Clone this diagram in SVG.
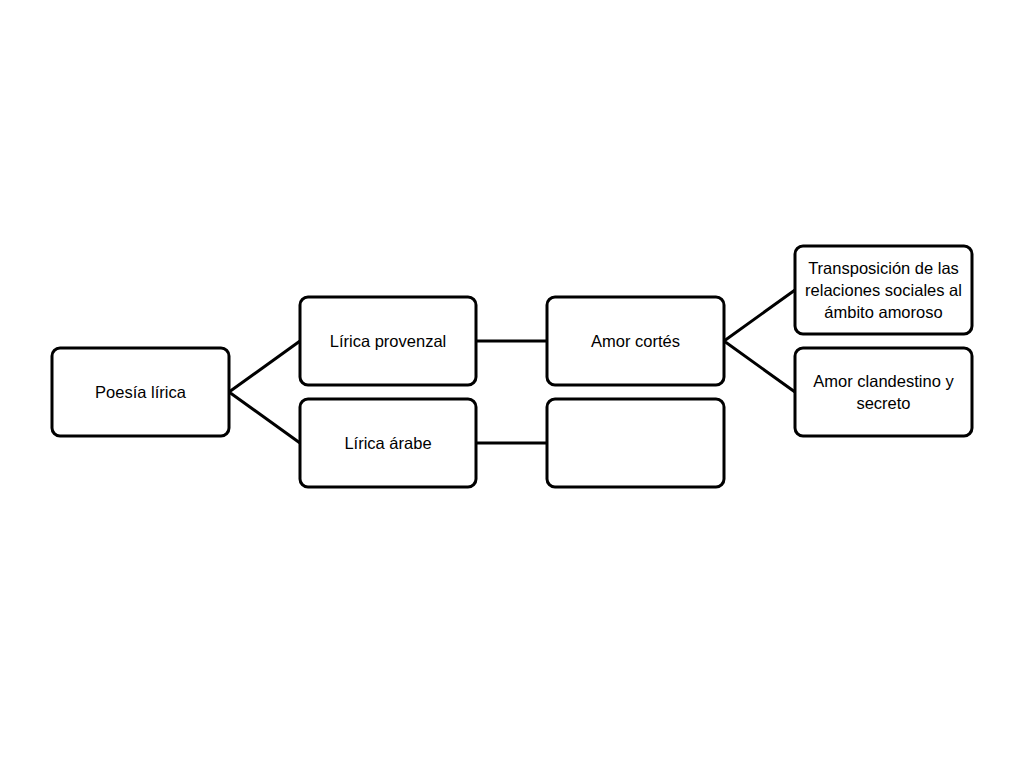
<svg xmlns="http://www.w3.org/2000/svg" width="1024" height="768" viewBox="0 0 1024 768">
<style>
.box{fill:#fff;stroke:#000;stroke-width:3}
.lbl{font-family:"Liberation Sans",Arial,sans-serif;font-size:16.5px;fill:#000;text-anchor:middle}
.conn{stroke:#000;stroke-width:3;fill:none}
</style>
<rect width="1024" height="768" fill="#fff"/>
<g id="connectors">
<polyline class="conn" points="300,341 229,392 300,443"/>
<line class="conn" x1="476" y1="341" x2="547" y2="341"/>
<line class="conn" x1="476" y1="443" x2="547" y2="443"/>
<polyline class="conn" points="795,290 724,341 795,392"/>
</g>
<g id="n-poesia">
<rect class="box" x="52" y="348" width="177" height="88" rx="8"/>
<text class="lbl" x="140.5" y="398">Poesía lírica</text>
</g>
<g id="n-provenzal">
<rect class="box" x="300" y="297" width="176" height="88" rx="8"/>
<text class="lbl" x="388" y="347">Lírica provenzal</text>
</g>
<g id="n-arabe">
<rect class="box" x="300" y="399" width="176" height="88" rx="8"/>
<text class="lbl" x="388" y="449">Lírica árabe</text>
</g>
<g id="n-amor">
<rect class="box" x="547" y="297" width="177" height="88" rx="8"/>
<text class="lbl" x="635.5" y="347">Amor cortés</text>
</g>
<g id="n-empty">
<rect class="box" x="547" y="399" width="177" height="88" rx="8"/>
</g>
<g id="n-transposicion">
<rect class="box" x="795" y="246" width="177" height="88" rx="8"/>
<text class="lbl" x="883.5" y="274">Transposición de las</text>
<text class="lbl" x="883.5" y="296">relaciones sociales al</text>
<text class="lbl" x="883.5" y="318">ámbito amoroso</text>
</g>
<g id="n-clandestino">
<rect class="box" x="795" y="348" width="177" height="88" rx="8"/>
<text class="lbl" x="883.5" y="387">Amor clandestino y</text>
<text class="lbl" x="883.5" y="409">secreto</text>
</g>
</svg>
